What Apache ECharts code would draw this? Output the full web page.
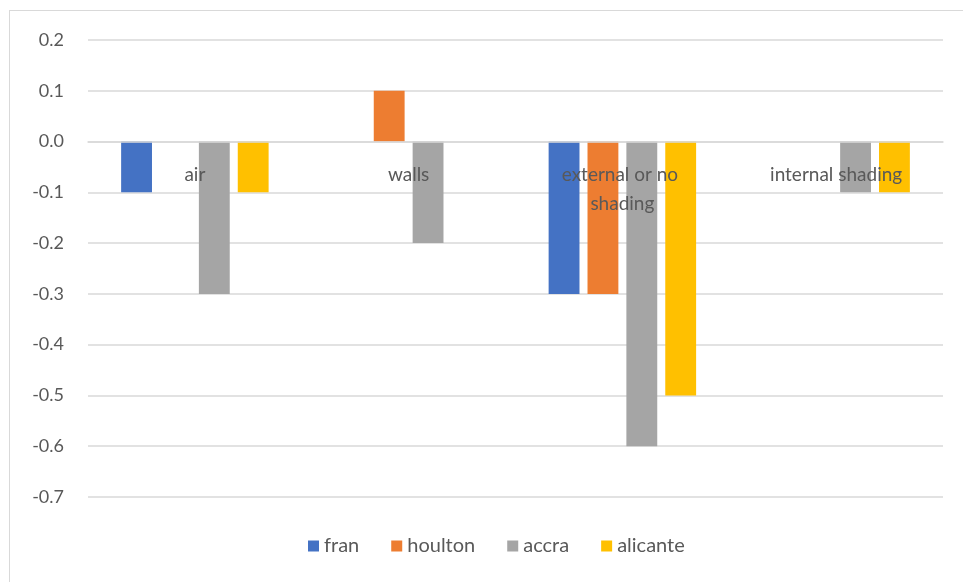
<!DOCTYPE html>
<html>
<head>
<meta charset="utf-8">
<script src="https://cdn.jsdelivr.net/npm/echarts@6/dist/echarts.min.js"></script>
<style>
  html, body { margin: 0; padding: 0; background: #fff; }
  #chart { width: 963px; height: 582px; }
  .frame { position: absolute; left: 9px; top: 10px; width: 960px; height: 580px; border: 1px solid #d9d9d9; box-sizing: border-box; pointer-events: none; }
</style>
</head>
<body>
<div id="chart"></div>
<div class="frame"></div>
<script>
const categories = ['air', 'walls', 'external or no shading', 'internal shading']
const seriesNames = ['fran', 'houlton', 'accra', 'alicante']
const fran = [-0.1, 0, -0.3, 0]
const houlton = [0, 0.1, -0.3, 0]
const accra = [-0.3, -0.2, -0.6, -0.1]
const alicante = [-0.1, 0, -0.5, -0.1]
const colors = ['#4472C4', '#ED7D31', '#A5A5A5', '#FFC000']

const font = 'Lato, "Open Sans", sans-serif'
const chart = echarts.init(document.getElementById('chart'))

chart.setOption({
  animation: false,
  color: colors,
  textStyle: { fontFamily: font },
  grid: { left: 88, right: 20, top: 40, bottom: 85 },
  legend: {
    bottom: 21,
    left: 303,
    icon: 'rect',
    itemWidth: 11,
    itemHeight: 11,
    itemGap: 32,
    textStyle: { color: '#595959', fontSize: 20, fontFamily: font },
    data: seriesNames,
  },
  xAxis: {
    type: 'category',
    data: categories,
    position: 'bottom',
    offset: -355,
    z: 10,
    axisLine: { onZero: false, lineStyle: { color: '#d9d9d9', width: 1.5 } },
    axisTick: { show: false },
    axisLabel: {
      interval: 0,
      color: '#595959',
      fontSize: 19,
      margin: 18,
      width: 165,
      overflow: 'break',
      lineHeight: 29,
    },
  },
  yAxis: {
    type: 'value',
    min: -0.7,
    max: 0.2,
    interval: 0.1,
    axisLine: { show: false },
    axisTick: { show: false },
    axisLabel: {
      color: '#595959',
      fontSize: 18,
      margin: 24,
      formatter: v => v.toFixed(1),
    },
    splitLine: { lineStyle: { color: '#d9d9d9', width: 1.5 } },
  },
  series: [
    { name: 'fran', type: 'bar', data: fran, barGap: '26%', barCategoryGap: '31%' },
    { name: 'houlton', type: 'bar', data: houlton },
    { name: 'accra', type: 'bar', data: accra },
    { name: 'alicante', type: 'bar', data: alicante },
  ],
})
</script>
</body>
</html>
